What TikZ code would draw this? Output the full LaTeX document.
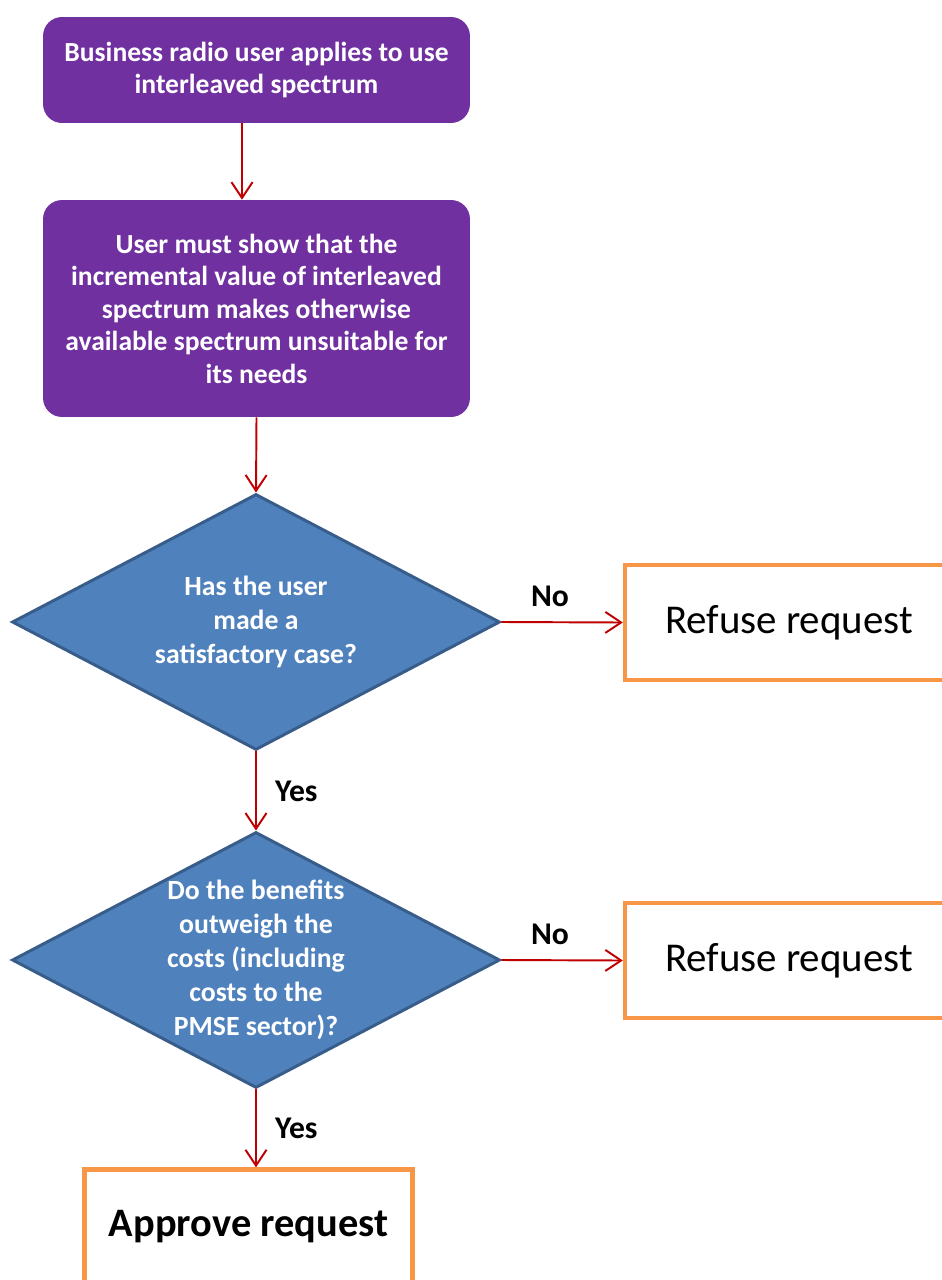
\documentclass[tikz,border=0pt]{standalone}
\usepackage{fontspec}
\setmainfont{Carlito}
\usetikzlibrary{shapes.geometric,arrows.meta}
\definecolor{stepPurple}{HTML}{7030A0}
\definecolor{askBlue}{HTML}{4F81BD}
\definecolor{askEdge}{HTML}{385D8A}
\definecolor{endOrange}{HTML}{F79646}
\definecolor{flowRed}{HTML}{C00000}
\tikzset{ s/.style = { rectangle % step box
        , rounded corners = 0.38cm
        , fill = stepPurple
        , text = white
        , align = center
        , minimum width = 8.54cm
        , font = \bfseries\fontsize{15.7}{18.5}\selectfont
        }
        , q/.style = { diamond % question
        , draw = askEdge
        , line width = 1.7pt
        , fill = askBlue
        , minimum width = 9.76cm
        , minimum height = 5.12cm
        }
        , r/.style = { rectangle % result
        , draw = endOrange
        , line width = 2.5pt
        , fill = white
        , minimum width = 6.56cm
        , minimum height = 2.3cm
        , font = \fontsize{23.3}{27}\selectfont
        }
        }

\begin{document}
\begin{tikzpicture}[x=0.02cm, y=-0.02cm,
        q_text_style/.style={align=center,text=white,font=\bfseries\fontsize{15.8}{19.3}\selectfont},
        edge_label_style/.style={font=\bfseries\fontsize{18}{20}\selectfont},
        edge_style/.style={draw=flowRed, line width=1.1pt, -{Straight Barb[length=9pt,width=12pt]}}]
        \useasboundingbox (0,0) rectangle (942,1280);
        \clip (0,0) rectangle (942,1280);

        \node [s,minimum height=2.12cm] (b1) at (256.5,70) {Business radio user applies to use\\interleaved spectrum};
        \node [s,minimum height=4.34cm] (b2) at (256.5,308.5) {User must show that the\\incremental value of interleaved\\spectrum makes otherwise\\available spectrum unsuitable for\\its needs};
        \node [q] (d1) at (256,622) {};
        \node [q_text_style] (d1t) at (d1) {Has the user\\made a\\satisfactory case?};
        \node [q] (d2) at (256,960) {};
        \node [q_text_style] (d2t) at (d2) {Do the benefits\\outweigh the\\costs (including\\costs to the\\PMSE sector)?};
        \node [r] (r1) at (789,622.5) {Refuse request};
        \node [r] (r2) at (789,960.5) {Refuse request};
        \node [r,font=\bfseries\fontsize{23}{27}\selectfont] (a1) at (248.5,1227) {Approve request};

        \draw [edge_style] ([xshift=-0.29cm]b1.south) -- ([xshift=-0.29cm]b2.north);
        \draw [edge_style] (b2.south) -- (d1.north);
        \draw [edge_style] (d1.east) -- node [edge_label_style,pos=0.4,above=5pt] (no1) {No} (r1.west);
        \draw [edge_style] (d1.south) -- node [edge_label_style,right=7pt] (yes1) {Yes} (d2.north);
        \draw [edge_style] (d2.east) -- node [edge_label_style,pos=0.4,above=5pt] (no2) {No} (r2.west);
        \draw [edge_style] (d2.south) -- node [edge_label_style,right=7pt] (yes2) {Yes} (d2.south |- a1.north);
\end{tikzpicture}
\end{document}
